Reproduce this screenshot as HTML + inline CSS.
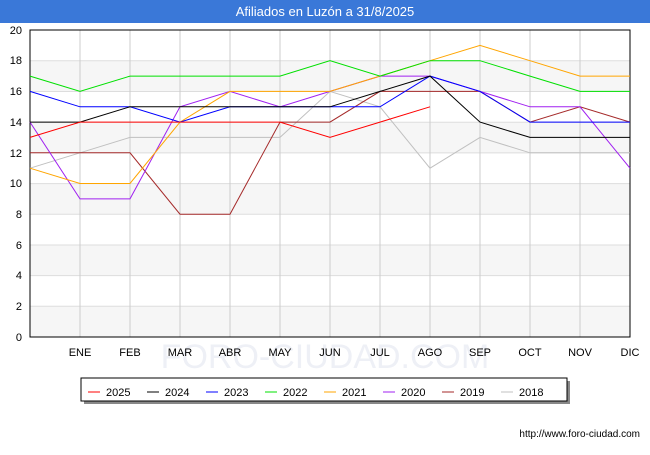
<!DOCTYPE html>
<html><head><meta charset="utf-8"><style>
body{margin:0;background:#fff;font-family:"Liberation Sans",sans-serif}
</style></head><body>
<svg width="650" height="450" xmlns="http://www.w3.org/2000/svg" font-family="Liberation Sans, sans-serif">
<rect x="0" y="0" width="650" height="450" fill="#fff"/>
<rect x="0" y="0" width="650" height="23" fill="#3a78d8"/>
<text x="325" y="16" text-anchor="middle" font-size="13" fill="#fff">Afiliados en Luzón a 31/8/2025</text>
<g fill="#f6f6f6">
<rect x="30" y="306.3" width="600" height="30.7"/>
<rect x="30" y="245" width="600" height="30.7"/>
<rect x="30" y="183.6" width="600" height="30.7"/>
<rect x="30" y="122.2" width="600" height="30.7"/>
<rect x="30" y="60.8" width="600" height="30.7"/>
</g>
<g stroke="#ddd" stroke-width="1">
<line x1="30" x2="630" y1="306.3" y2="306.3"/><line x1="30" x2="630" y1="275.6" y2="275.6"/>
<line x1="30" x2="630" y1="245" y2="245"/><line x1="30" x2="630" y1="214.3" y2="214.3"/>
<line x1="30" x2="630" y1="183.6" y2="183.6"/><line x1="30" x2="630" y1="152.9" y2="152.9"/>
<line x1="30" x2="630" y1="122.2" y2="122.2"/><line x1="30" x2="630" y1="91.5" y2="91.5"/>
<line x1="30" x2="630" y1="60.8" y2="60.8"/>
</g>
<g stroke="#ccc" stroke-width="1">
<line x1="80" x2="80" y1="30" y2="337"/><line x1="130" x2="130" y1="30" y2="337"/>
<line x1="180" x2="180" y1="30" y2="337"/><line x1="230" x2="230" y1="30" y2="337"/>
<line x1="280" x2="280" y1="30" y2="337"/><line x1="330" x2="330" y1="30" y2="337"/>
<line x1="380" x2="380" y1="30" y2="337"/><line x1="430" x2="430" y1="30" y2="337"/>
<line x1="480" x2="480" y1="30" y2="337"/><line x1="530" x2="530" y1="30" y2="337"/>
<line x1="580" x2="580" y1="30" y2="337"/><line x1="630" x2="630" y1="30" y2="337"/>
</g>
<rect x="30" y="30" width="600" height="307" fill="none" stroke="#000"/>
<text x="325" y="368" text-anchor="middle" font-size="34" fill="#eef0f6">FORO-CIUDAD.COM</text>
<g font-size="11" fill="#000" text-anchor="end">
<text x="22" y="341">0</text><text x="22" y="310">2</text><text x="22" y="279">4</text>
<text x="22" y="249">6</text><text x="22" y="218">8</text><text x="22" y="187">10</text>
<text x="22" y="157">12</text><text x="22" y="126">14</text><text x="22" y="95">16</text>
<text x="22" y="64">18</text><text x="22" y="34">20</text>
</g>
<g font-size="11" fill="#000" text-anchor="middle">
<text x="80" y="356">ENE</text><text x="130" y="356">FEB</text><text x="180" y="356">MAR</text>
<text x="230" y="356">ABR</text><text x="280" y="356">MAY</text><text x="330" y="356">JUN</text>
<text x="380" y="356">JUL</text><text x="430" y="356">AGO</text><text x="480" y="356">SEP</text>
<text x="530" y="356">OCT</text><text x="580" y="356">NOV</text><text x="630" y="356">DIC</text>
</g>
<g fill="none" stroke-width="1">
<polyline stroke="#c0c0c0" points="30,168.2 80,152.8 130,137.4 180,137.4 230,137.4 280,137.4 330,91.4 380,106.8 430,168.2 480,137.4 530,152.8 580,152.8 630,152.8"/>
<polyline stroke="#a52a2a" points="30,152.8 80,152.8 130,152.8 180,214.2 230,214.2 280,122.1 330,122.1 380,91.4 430,91.4 480,91.4 530,122.1 580,106.8 630,122.1"/>
<polyline stroke="#a020f0" points="30,122.1 80,198.9 130,198.9 180,106.8 230,91.4 280,106.8 330,91.4 380,76.1 430,76.1 480,91.4 530,106.8 580,106.8 630,168.2"/>
<polyline stroke="#ffa500" points="30,168.2 80,183.5 130,183.5 180,122.1 230,91.4 280,91.4 330,91.4 380,76.1 430,60.7 480,45.4 530,60.7 580,76.1 630,76.1"/>
<polyline stroke="#00e000" points="30,76.1 80,91.4 130,76.1 180,76.1 230,76.1 280,76.1 330,60.7 380,76.1 430,60.7 480,60.7 530,76.1 580,91.4 630,91.4"/>
<polyline stroke="#0000ff" points="30,91.4 80,106.8 130,106.8 180,122.1 230,106.8 280,106.8 330,106.8 380,106.8 430,76.1 480,91.4 530,122.1 580,122.1 630,122.1"/>
<polyline stroke="#000" points="30,122.1 80,122.1 130,106.8 180,106.8 230,106.8 280,106.8 330,106.8 380,91.4 430,76.1 480,122.1 530,137.4 580,137.4 630,137.4"/>
<polyline stroke="#ff0000" points="30,137.4 80,122.1 130,122.1 180,122.1 230,122.1 280,122.1 330,137.4 380,122.1 430,106.8"/>
</g>
<rect x="84" y="381" width="486" height="23" fill="#888"/>
<rect x="81" y="378" width="486" height="23" fill="#fff" stroke="#000"/>
<g font-size="11" fill="#000">
<line x1="88" x2="100" y1="392" y2="392" stroke="#ff0000"/><text x="106" y="396">2025</text>
<line x1="147" x2="159" y1="392" y2="392" stroke="#000"/><text x="165" y="396">2024</text>
<line x1="206" x2="218" y1="392" y2="392" stroke="#0000ff"/><text x="224" y="396">2023</text>
<line x1="265" x2="277" y1="392" y2="392" stroke="#00e000"/><text x="283" y="396">2022</text>
<line x1="324" x2="336" y1="392" y2="392" stroke="#ffa500"/><text x="342" y="396">2021</text>
<line x1="383" x2="395" y1="392" y2="392" stroke="#a020f0"/><text x="401" y="396">2020</text>
<line x1="442" x2="454" y1="392" y2="392" stroke="#a52a2a"/><text x="460" y="396">2019</text>
<line x1="501" x2="513" y1="392" y2="392" stroke="#c0c0c0"/><text x="519" y="396">2018</text>
</g>
<text x="640" y="437" text-anchor="end" font-size="10" fill="#000">http://www.foro-ciudad.com</text>
</svg>
</body></html>
